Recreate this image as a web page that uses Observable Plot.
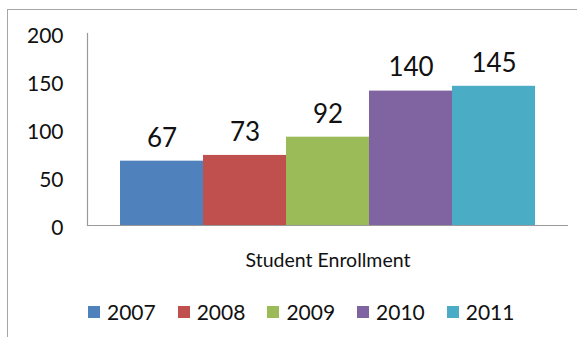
<!DOCTYPE html>
<html>
<head>
<meta charset="utf-8">
<script src="https://cdn.jsdelivr.net/npm/d3@7"></script>
<script src="https://cdn.jsdelivr.net/npm/@observablehq/plot@0.6"></script>
<style>
  html, body { margin: 0; padding: 0; background: #fff; overflow: hidden; }
  #wrap { position: relative; width: 577px; height: 337px; overflow: hidden; font-family: Lato, sans-serif; color: #111; }
  #border { position: absolute; left: 7px; top: 9px; width: 620px; height: 400px; border: 1.5px solid #a6a6a6; box-sizing: border-box; }
  #chart { position: absolute; left: 0; top: 0; }
  #legend { position: absolute; left: 88px; top: 300px; display: flex; }
  .item { display: flex; align-items: center; width: 89.7px; font-size: 21px; line-height: 24px; }
  .sw { width: 12px; height: 12px; margin-right: 7px; }
</style>
</head>
<body>
<div id="wrap">
  <div id="border"></div>
  <div id="chart"></div>
  <div id="legend"></div>
</div>
<script>
const years = ["2007", "2008", "2009", "2010", "2011"];
const enrollment = [67, 73, 92, 140, 145];
const colors = ["#4F81BD", "#C0504D", "#9BBB59", "#8064A2", "#4BACC6"];
const yTicks = [0, 50, 100, 150, 200];
const categoryLabel = "Student Enrollment";

const data = years.map((y, i) => ({year: y, value: enrollment[i]}));

const chart = Plot.plot({
  width: 577,
  height: 280,
  marginLeft: 87,
  marginRight: 9,
  marginTop: 33,
  marginBottom: 55,
  style: {fontFamily: "Lato, sans-serif", color: "#111", background: "transparent", overflow: "visible"},
  x: {domain: years, paddingInner: 0, paddingOuter: 0.377, axis: null},
  y: {domain: [0, 200], axis: null},
  color: {domain: years, range: colors},
  marks: [
    Plot.barY(data, {x: "year", y: "value", fill: "year"}),
    Plot.ruleY([0], {stroke: "#999", strokeWidth: 1.2}),
    Plot.frame({anchor: "left", stroke: "#999", strokeWidth: 1.2}),
    Plot.axisY(yTicks, {tickSize: 0, tickPadding: 24, dy: 3, fontSize: 21, label: null}),
    Plot.text(data, {x: "year", y: "value", text: d => String(d.value), dy: -23, lineAnchor: "middle", fontSize: 26}),
    Plot.text([categoryLabel], {frameAnchor: "bottom", dy: 35, lineAnchor: "middle", fontSize: 19.5})
  ]
});
document.getElementById("chart").appendChild(chart);

const legend = document.getElementById("legend");
years.forEach((y, i) => {
  const item = document.createElement("div");
  item.className = "item";
  const sw = document.createElement("span");
  sw.className = "sw";
  sw.style.background = colors[i];
  const t = document.createElement("span");
  t.textContent = y;
  item.appendChild(sw);
  item.appendChild(t);
  legend.appendChild(item);
});
</script>
</body>
</html>
